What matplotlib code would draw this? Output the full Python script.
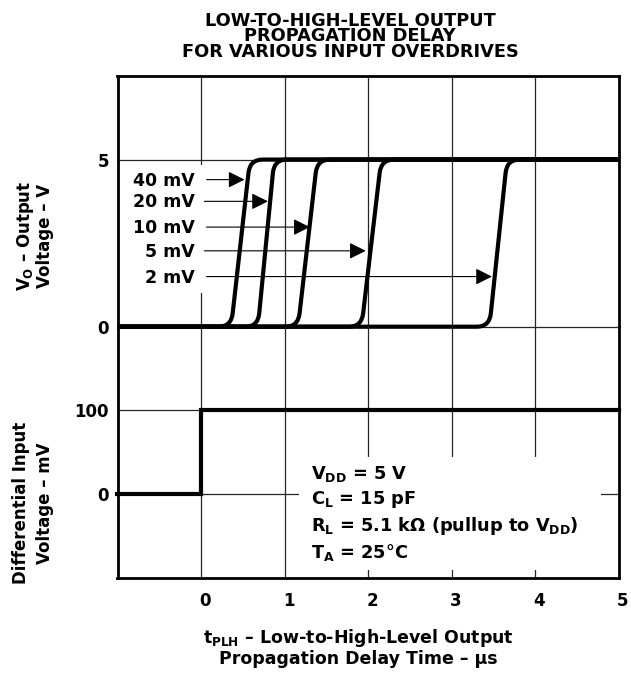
import matplotlib
matplotlib.use('Agg')
import matplotlib.pyplot as plt
from matplotlib.path import Path
from matplotlib.patches import PathPatch, Rectangle
from matplotlib.transforms import ScaledTranslation

plt.rcParams['font.family'] = ['DejaVu Sans']
plt.rcParams['font.weight'] = 'bold'
plt.rcParams['mathtext.fontset'] = 'custom'
plt.rcParams['mathtext.rm'] = 'DejaVu Sans:bold'
plt.rcParams['mathtext.it'] = 'DejaVu Sans:bold'
plt.rcParams['mathtext.bf'] = 'DejaVu Sans:bold'

# output edges for each input overdrive (x where the edge crosses 0 V and 5 V, in us)
overdrive_labels = ['40 mV', '20 mV', '10 mV', '5 mV', '2 mV']
edge_at_0v = [0.36, 0.68, 1.16, 1.92, 3.45]
edge_at_5v = [0.585, 0.875, 1.39, 2.155, 3.66]
v_low = 0
v_high = 5

# arrows pointing from the labels to the curves
arrow_v = [4.40, 3.75, 2.98, 2.27, 1.50]
arrow_tip = [0.52, 0.80, 1.30, 1.97, 3.48]
arrow_start = [0.065, 0.04, 0.065, 0.04, 0.065]

# differential input step
input_t = [-1, 0, 0, 5]
input_mv = [0, 0, 100, 100]

x_ticks = [0, 1, 2, 3, 4, 5]
vo_ticks = [0, 5]
vin_ticks = [0, 100]

conditions = [r'$V_{DD}$ = 5 V',
              r'$C_L$ = 15 pF',
              r'$R_L$ = 5.1 k$\Omega$ (pullup to $V_{DD}$)',
              r'$T_A$ = 25$\degree$C']
condition_mv = [18, -12, -44, -76]

W, H = 631, 677
fig = plt.figure(figsize=(W / 100, H / 100), dpi=100)


def fx(px):
    return px / W


def fy(py):
    return 1 - py / H


left, right, top, mid, bottom = 117.5, 619, 76, 326.7, 578
ax_vo = fig.add_axes([fx(left), fy(mid), fx(right) - fx(left), fy(top) - fy(mid)])
ax_in = fig.add_axes([fx(left), fy(bottom), fx(right) - fx(left), fy(mid) - fy(bottom)])

grid_kw = dict(color='#262626', lw=0.9, zorder=0.5)
for ax in (ax_vo, ax_in):
    ax.patch.set_visible(False)
    ax.set_xlim(-1, 5)
    for s in ax.spines.values():
        s.set_linewidth(2)
    ax.tick_params(length=0, labelsize=12, pad=6)
    for x in x_ticks[:-1]:
        ax.axvline(x, **grid_kw)

ax_vo.spines['bottom'].set_visible(False)
ax_in.spines['top'].set_visible(False)

ax_vo.set_ylim(0, 7.5)
ax_vo.set_yticks(vo_ticks)
ax_vo.set_xticks(x_ticks)
ax_vo.set_xticklabels([])
for y in vo_ticks:
    ax_vo.axhline(y, clip_on=False, **grid_kw)

ax_in.set_ylim(-100, 200)
ax_in.set_yticks(vin_ticks)
ax_in.set_xticks(x_ticks)
for y in vin_ticks:
    ax_in.axhline(y, **grid_kw)
ax_in.tick_params(axis='x', pad=10)
offset = ScaledTranslation(4 / 100, 0, fig.dpi_scale_trans)
for lab in ax_in.get_xticklabels():
    lab.set_transform(lab.get_transform() + offset)

# output voltage curves with rounded corners
rx, rv = 0.15, 0.4
for x0, x5 in zip(edge_at_0v, edge_at_5v):
    slope = (x5 - x0) / (v_high - v_low)
    verts = [(-1, v_low), (x0 - rx, v_low), (x0, v_low), (x0 + slope * rv, v_low + rv),
             (x5 - slope * rv, v_high - rv), (x5, v_high), (x5 + rx, v_high), (5, v_high)]
    codes = [Path.MOVETO, Path.LINETO, Path.CURVE3, Path.CURVE3,
             Path.LINETO, Path.CURVE3, Path.CURVE3, Path.LINETO]
    patch = PathPatch(Path(verts, codes), fill=False, lw=3, color='black',
                      capstyle='butt', joinstyle='round', clip_on=False, zorder=3)
    ax_vo.add_patch(patch)

# white box behind the overdrive labels
ax_vo.add_patch(Rectangle((-0.95, 1.0), 0.99, 3.85, facecolor='white', edgecolor='none', zorder=1))
for lab, v, tip, st in zip(overdrive_labels, arrow_v, arrow_tip, arrow_start):
    ax_vo.text(-0.07, v - 0.18, lab, ha='right', va='baseline', fontsize=12.5,
               fontweight='bold', zorder=4)
    ax_vo.annotate('', xy=(tip, v), xytext=(st, v),
                   arrowprops=dict(arrowstyle='-|>,head_length=1.0,head_width=0.5',
                                   mutation_scale=10, lw=0.8, color='black',
                                   shrinkA=0, shrinkB=0), zorder=4)

# input step
ax_in.plot(input_t, input_mv, color='black', lw=3, clip_on=False,
           solid_joinstyle='miter', zorder=3)

ax_in.add_patch(Rectangle((1.176, -91), 3.61, 136, facecolor='white', edgecolor='none', zorder=1))
for txt, mv in zip(conditions, condition_mv):
    ax_in.text(1.32, mv, txt, ha='left', va='baseline', fontsize=12.8,
               fontweight='bold', zorder=4)

# titles and axis labels
title = 'LOW-TO-HIGH-LEVEL OUTPUT\nPROPAGATION DELAY\nFOR VARIOUS INPUT OVERDRIVES'
fig.text(fx(350), fy(12), title, ha='center', va='top', fontsize=12.8,
         fontweight='bold', linespacing=0.82)

fig.text(fx(358), fy(643), r'$t_{PLH}$ – Low-to-High-Level Output', ha='center',
         va='baseline', fontsize=12.5, fontweight='bold')
fig.text(fx(358), fy(664), 'Propagation Delay Time – μs', ha='center',
         va='baseline', fontsize=12.5, fontweight='bold')

fig.text(fx(34), fy(236), '$V_O$ – Output\nVoltage – V', rotation=90, ha='center',
         va='center', fontsize=12, fontweight='bold', linespacing=1.0)
fig.text(fx(33), fy(503), 'Differential Input\nVoltage – mV', rotation=90, ha='center',
         va='center', fontsize=12, fontweight='bold', linespacing=1.4)

fig.savefig('out.png', dpi=100, facecolor='white')
